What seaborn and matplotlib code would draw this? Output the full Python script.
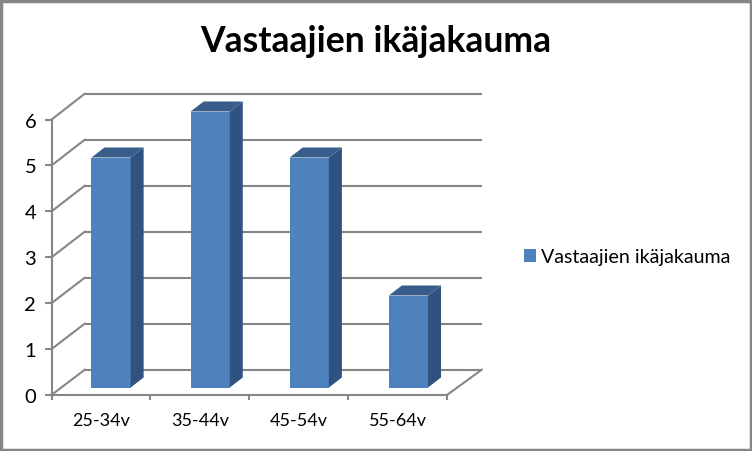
import pandas as pd
import seaborn as sns
import matplotlib.pyplot as plt
from matplotlib.patches import Polygon, Rectangle

categories = ['25-34v', '35-44v', '45-54v', '55-64v']
values = [5, 6, 5, 2]
series_name = 'Vastaajien ikäjakauma'
y_ticks = [0, 1, 2, 3, 4, 5, 6]

W, H = 752, 452
GREY = '#868686'
FRONT = '#4F81BD'
SIDE = '#2F5280'
TOP = '#385D8A'

sns.set_theme(style='white')
plt.rcParams['font.family'] = ['Lato', 'DejaVu Sans']

df = pd.DataFrame({'ika': categories, 'n': values})

fig = plt.figure(figsize=(W / 100, H / 100), dpi=100, facecolor='white')


def make_axes(left, right, y0, y6, **kw):
    # pixel box -> figure fraction
    ax = fig.add_axes([left / W, 1 - y0 / H, (right - left) / W, (y0 - y6) / H], **kw)
    ax.set_xlim(-0.5, 3.5)
    ax.set_ylim(0, 6)
    ax.patch.set_alpha(0)
    return ax


# back wall with the gridlines
back = make_axes(85, 482, 370.5, 94.5)
back.hlines(y_ticks, -0.5, 3.5, color=GREY, lw=1.5, clip_on=False)
back.axis('off')

# side wall and floor edges between back and front plane
for v in y_ticks:
    fig.add_artist(plt.Line2D([51.5 / W, 85 / W],
                              [1 - (396 - 45.9 * v) / H, 1 - (370.5 - 46 * v) / H],
                              color=GREY, lw=1.5))
fig.add_artist(plt.Line2D([447 / W, 482 / W], [1 - 396 / H, 1 - 370.5 / H], color=GREY, lw=1.5))

# bars
ax = make_axes(61.5, 458, 388.5, 112.5)
sns.barplot(data=df, x='ika', y='n', color=FRONT, saturation=1, width=0.395,
            label=series_name, legend=False, ax=ax, edgecolor='none', linewidth=0)
ax.set_xlim(-0.5, 3.5)
ax.set_ylim(0, 6)
ax.axis('off')

# depth of the bars, 13 px right and 10 px up
from_px = ax.transData.inverted()
for bar in ax.patches[:len(values)]:
    x0, x1 = bar.get_x(), bar.get_x() + bar.get_width()
    h = bar.get_height()
    dx, dy = from_px.transform((13, 10)) - from_px.transform((0, 0))
    ax.add_patch(Polygon([(x1, 0), (x1 + dx, dy), (x1 + dx, h + dy), (x1, h)],
                         closed=True, fc=SIDE, ec='none', clip_on=False))
    ax.add_patch(Polygon([(x0, h), (x0 + dx, h + dy), (x1 + dx, h + dy), (x1, h)],
                         closed=True, fc=TOP, ec='none', clip_on=False))

# front plane: ticks and labels
front = make_axes(51.5, 447, 396, 120.5)
sns.despine(ax=front, top=True, right=True)
for side in ['left', 'bottom']:
    front.spines[side].set_color(GREY)
    front.spines[side].set_linewidth(1.5)
front.set_yticks(y_ticks)
front.set_xticks([-0.5, 0.5, 1.5, 2.5, 3.5])
front.set_xticklabels([])
front.set_xticks([0, 1, 2, 3], labels=categories, minor=True)
front.tick_params(axis='x', which='major', length=3.5, width=1.5, color=GREY, bottom=True)
front.tick_params(axis='x', which='minor', length=0, pad=12.5, labelsize=13, labelcolor='black')
front.tick_params(axis='y', length=5, width=1.5, color=GREY, left=True, pad=6,
                  labelsize=14.5, labelcolor='black')

fig.text(375.5 / W, 1 - 41 / H, series_name, ha='center', va='center',
         fontsize=25.6, fontweight='bold', color='black')

handles, labels = ax.get_legend_handles_labels()
if not handles:
    handles, labels = [Rectangle((0, 0), 1, 1, fc=FRONT)], [series_name]
fig.legend(handles, labels, loc='center left', bbox_to_anchor=(506.5 / W, 1 - 258 / H),
           frameon=False, fontsize=14.1, handlelength=0.62, handleheight=0.62,
           handletextpad=0.26, labelcolor='black')

# chart area frame
fig.add_artist(Rectangle((1 / W, 1 / H), (W - 2.5) / W, (H - 2.5) / H, transform=fig.transFigure,
                         fill=False, ec=GREY, lw=2.5))

fig.savefig('out.png', dpi=100)
